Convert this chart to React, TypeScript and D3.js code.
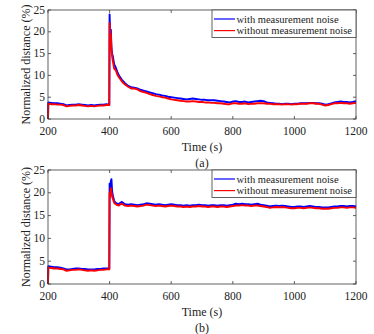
import { useEffect, useRef } from 'react'
import * as d3 from 'd3'

const times = [
  200, 201, 210, 220, 230, 240, 250, 260, 270, 280, 290, 300, 310, 320, 330, 340, 350, 360, 370, 380, 390, 399,
  400, 402, 404, 406, 408, 410, 415, 420, 425, 430, 435,
  440, 450, 460, 470, 480, 490, 500, 510, 520, 530, 540, 550, 560, 570, 580, 590, 600, 610, 620, 630,
  640, 650, 660, 670, 680, 690, 700, 710, 720, 730, 740, 750, 760, 770, 780, 790, 800, 810, 820, 830,
  840, 850, 860, 870, 880, 890, 900, 910, 920, 930, 940, 950, 960, 970, 980, 990, 1000, 1010, 1020, 1030,
  1040, 1050, 1060, 1070, 1080, 1090, 1100, 1110, 1120, 1130, 1140, 1150, 1160, 1170, 1180, 1190, 1200,
]

const aWithNoise = [
  0, 3.8, 3.7, 3.6, 3.6, 3.5, 3.4, 3.1, 3.2, 3.3, 3.3, 3.4, 3.3, 3.2, 3.1, 3.2, 3.1, 3.2, 3.3, 3.3, 3.4, 3.3,
  24.0, 19.0, 20.5, 16.5, 15.0, 14.5, 12.5, 11.8, 10.8, 10.0, 9.5,
  9.0, 8.2, 7.6, 7.3, 7.2, 7.0, 6.7, 6.5, 6.3, 6.1,
  5.9, 5.7, 5.6, 5.4, 5.3, 5.1, 5.0, 4.9, 4.8, 4.7,
  4.6, 4.5, 4.6, 4.7, 4.6, 4.5, 4.4, 4.4, 4.3, 4.3,
  4.3, 4.2, 4.1, 4.0, 3.9, 3.8, 4.0, 4.1, 3.9, 3.9,
  4.0, 3.8, 3.9, 4.0, 4.1, 4.2, 4.1, 3.8, 3.7, 3.6,
  3.5, 3.5, 3.4, 3.5, 3.5, 3.4, 3.5, 3.5, 3.6, 3.6,
  3.6, 3.7, 3.7, 3.6, 3.6, 3.5, 3.3, 3.4, 3.6, 3.8,
  3.9, 4.0, 3.9, 3.9, 3.8, 3.9, 4.1,
]

const aWithoutNoise = [
  0, 3.5, 3.4, 3.4, 3.3, 3.3, 3.2, 2.9, 3.0, 3.1, 3.1, 3.2, 3.1, 3.0, 2.9, 3.0, 2.9, 3.0, 3.1, 3.1, 3.2, 3.2,
  22.0, 18.5, 19.5, 16.0, 14.5, 13.5, 11.5, 11.2, 10.2, 9.6, 9.1,
  8.6, 7.9, 7.4, 7.0, 7.0, 6.8, 6.4, 6.2, 6.0, 5.7,
  5.5, 5.3, 5.2, 5.0, 4.9, 4.7, 4.5, 4.4, 4.3, 4.2,
  4.1, 4.0, 4.0, 4.1, 4.0, 3.9, 3.9, 3.8, 3.8, 3.7,
  3.7, 3.6, 3.6, 3.5, 3.4, 3.4, 3.6, 3.6, 3.5, 3.5,
  3.6, 3.4, 3.5, 3.5, 3.6, 3.6, 3.6, 3.5, 3.5, 3.4,
  3.4, 3.4, 3.3, 3.4, 3.4, 3.3, 3.4, 3.4, 3.5, 3.5,
  3.5, 3.6, 3.6, 3.5, 3.5, 3.3, 3.1, 3.2, 3.4, 3.6,
  3.6, 3.7, 3.6, 3.6, 3.5, 3.6, 3.7,
]

const bWithNoise = [
  0, 3.9, 3.8, 3.7, 3.7, 3.6, 3.4, 3.2, 3.2, 3.3, 3.4, 3.4, 3.3, 3.3, 3.2, 3.2, 3.2, 3.3, 3.3, 3.4, 3.4, 3.4,
  22.0, 21.0, 22.5, 23.0, 20.5, 19.5, 18.2, 17.8, 17.6, 17.5, 17.8,
  18.0, 17.5, 17.4, 17.5, 17.4, 17.3, 17.4, 17.5, 17.7, 17.6,
  17.5, 17.4, 17.5, 17.4, 17.3, 17.4, 17.5, 17.4, 17.3, 17.3,
  17.2, 17.3, 17.2, 17.3, 17.3, 17.4, 17.3, 17.3, 17.2, 17.3,
  17.3, 17.2, 17.3, 17.3, 17.2, 17.3, 17.4, 17.6, 17.5, 17.6,
  17.5, 17.5, 17.4, 17.5, 17.6, 17.4, 17.3, 17.2, 17.0, 17.1,
  17.2, 17.1, 17.2, 17.1, 17.0, 16.9, 16.9, 17.0, 17.0, 16.9,
  17.0, 17.1, 17.0, 16.9, 16.9, 16.8, 16.8, 16.8, 16.9, 17.0,
  17.0, 17.1, 17.1, 17.0, 17.1, 17.1, 17.0,
]

const bWithoutNoise = [
  0, 3.6, 3.5, 3.4, 3.4, 3.3, 3.2, 2.9, 3.0, 3.1, 3.1, 3.2, 3.1, 3.0, 2.9, 3.0, 2.9, 3.0, 3.1, 3.1, 3.2, 3.2,
  20.0, 19.0, 21.0, 20.0, 19.5, 18.8, 17.8, 17.5, 17.3, 17.2, 17.5,
  17.6, 17.2, 17.1, 17.2, 17.1, 17.0, 17.1, 17.2, 17.4, 17.3,
  17.2, 17.1, 17.2, 17.1, 17.0, 17.1, 17.2, 17.1, 17.0, 17.0,
  16.9, 17.0, 16.9, 17.0, 17.0, 17.1, 17.0, 17.0, 16.9, 17.0,
  17.0, 16.9, 17.0, 17.0, 16.9, 17.0, 17.1, 17.2, 17.2, 17.3,
  17.2, 17.2, 17.1, 17.2, 17.2, 17.1, 17.0, 16.9, 16.7, 16.8,
  16.9, 16.8, 16.9, 16.8, 16.7, 16.6, 16.6, 16.7, 16.7, 16.6,
  16.7, 16.8, 16.7, 16.6, 16.6, 16.5, 16.5, 16.5, 16.6, 16.7,
  16.7, 16.8, 16.8, 16.7, 16.8, 16.8, 16.7,
]

const xTicks = [200, 400, 600, 800, 1000, 1200]
const yTicks = [0, 5, 10, 15, 20, 25]
const seriesNames = ['with measurement noise', 'without measurement noise']
const seriesColors = ['#0000ff', '#ff0000']

const FONT = "'Liberation Serif', 'Times New Roman', Times, serif"
const AXIS = '#3a3a3a'
const INK = '#222'

function label(g, txt, x, y, size, anchor = 'middle') {
  return g
    .append('text')
    .attr('x', x)
    .attr('y', y)
    .attr('text-anchor', anchor)
    .attr('font-family', FONT)
    .attr('font-size', size)
    .attr('fill', INK)
    .text(txt)
}

function drawPanel(svg, box, blue, red, caption) {
  const { left, right, top, bottom } = box
  const x = d3.scaleLinear().domain([200, 1200]).range([left, right])
  const y = d3.scaleLinear().domain([0, 25]).range([bottom, top])
  const g = svg.append('g')

  const line = d3
    .line<number>()
    .x((_, i) => x(times[i]))
    .y((d) => y(d))

  ;[blue, red].forEach((vals, i) => {
    g.append('path')
      .attr('d', line(vals))
      .attr('fill', 'none')
      .attr('stroke', seriesColors[i])
      .attr('stroke-width', 1.9)
      .attr('stroke-linejoin', 'round')
  })

  // box + inward ticks, matlab style
  g.append('rect')
    .attr('x', left)
    .attr('y', top)
    .attr('width', right - left)
    .attr('height', bottom - top)
    .attr('fill', 'none')
    .attr('stroke', AXIS)
    .attr('stroke-width', 0.8)

  const tl = 3
  xTicks.forEach((t) => {
    g.append('line').attr('x1', x(t)).attr('x2', x(t)).attr('y1', bottom).attr('y2', bottom - tl).attr('stroke', AXIS).attr('stroke-width', 0.8)
    g.append('line').attr('x1', x(t)).attr('x2', x(t)).attr('y1', top).attr('y2', top + tl).attr('stroke', AXIS).attr('stroke-width', 0.8)
    label(g, t, x(t), bottom + 16, 11.5)
  })
  yTicks.forEach((t) => {
    g.append('line').attr('x1', left).attr('x2', left + tl).attr('y1', y(t)).attr('y2', y(t)).attr('stroke', AXIS).attr('stroke-width', 0.8)
    g.append('line').attr('x1', right).attr('x2', right - tl).attr('y1', y(t)).attr('y2', y(t)).attr('stroke', AXIS).attr('stroke-width', 0.8)
    label(g, t, left - 3, y(t) + 3.5, 11.5, 'end')
  })

  label(g, 'Normalized distance (%)', 0, 0, 12).attr(
    'transform',
    `translate(30, ${(top + bottom) / 2}) rotate(-90)`,
  )
  label(g, 'Time (s)', (left + right) / 2, bottom + 31.5, 12)
  label(g, caption, (left + right) / 2, bottom + 47.5, 12)

  // legend
  const lx = 212
  g.append('rect')
    .attr('x', lx)
    .attr('y', top)
    .attr('width', right - lx)
    .attr('height', 27.5)
    .attr('fill', '#fff')
    .attr('stroke', AXIS)
    .attr('stroke-width', 0.8)
  seriesNames.forEach((name, i) => {
    const ry = top + 9 + i * 11.6
    g.append('line')
      .attr('x1', lx + 2)
      .attr('x2', lx + 23)
      .attr('y1', ry)
      .attr('y2', ry)
      .attr('stroke', seriesColors[i])
      .attr('stroke-width', 1.2)
    label(g, name, lx + 24.5, ry + 3.5, 10.5, 'start')
  })
}

export default function App() {
  const ref = useRef<SVGSVGElement>(null)

  useEffect(() => {
    const el = ref.current
    if (!el) return
    const svg = d3.select(el)
    svg.selectAll('*').remove()
    drawPanel(svg, { left: 48, right: 356, top: 10, bottom: 119 }, aWithNoise, aWithoutNoise, '(a)')
    drawPanel(svg, { left: 48, right: 356, top: 170, bottom: 284 }, bWithNoise, bWithoutNoise, '(b)')
  }, [])

  return (
    <svg
      ref={ref}
      width={374}
      height={334}
      viewBox="0 0 374 334"
      style={{ position: 'absolute', left: 0, top: 0, background: '#fff' }}
    />
  )
}
